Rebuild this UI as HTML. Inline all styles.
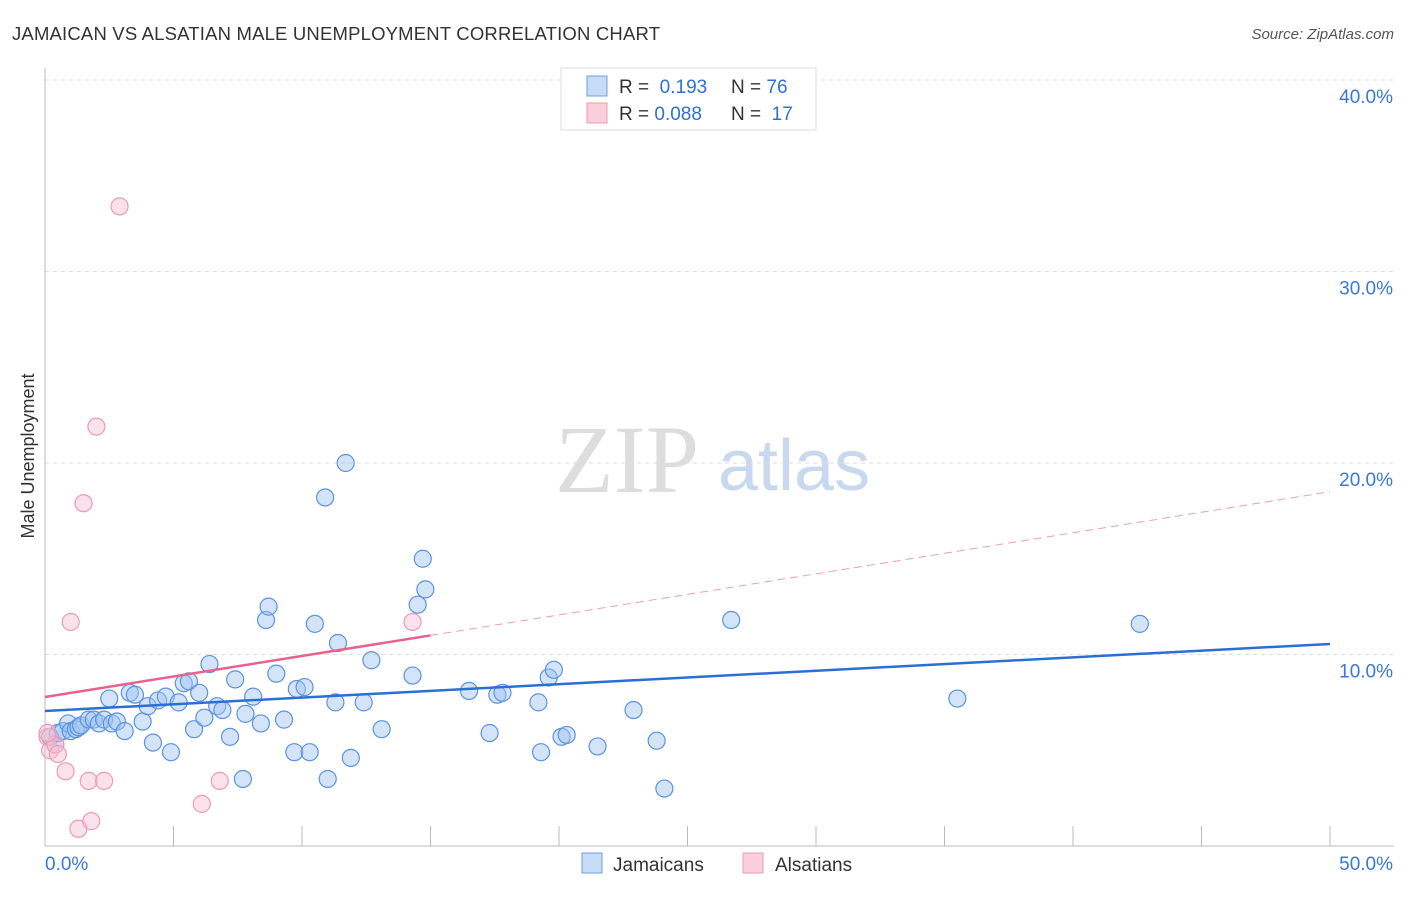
<!DOCTYPE html>
<html><head><meta charset="utf-8"><style>
body{margin:0;background:#fff;font-family:"Liberation Sans",sans-serif;}
svg text{font-family:"Liberation Sans",sans-serif;}
</style></head><body>
<svg id="chart" width="1406" height="892">
<text x="12" y="40" font-size="18.5" fill="#333" textLength="648">JAMAICAN VS ALSATIAN MALE UNEMPLOYMENT CORRELATION CHART</text>
<text x="1394" y="39" font-size="15" fill="#555" font-style="italic" text-anchor="end">Source: ZipAtlas.com</text>
<text x="34" y="456" font-size="18" fill="#333" transform="rotate(-90 34 456)" text-anchor="middle">Male Unemployment</text>
<text x="555" y="492" font-size="96" fill="#ddd" style="font-family:'Liberation Serif',serif">ZIP</text>
<text x="718" y="490" font-size="72" fill="#c8d8ee">atlas</text>
<g id="grid"></g><g id="marks"></g>
<g>
<rect x="561" y="68" width="255" height="62" fill="#fff" stroke="#ddd"/>
<rect x="587" y="76" width="20" height="20" fill="#c5dbf6" stroke="#6fa0e0"/>
<rect x="587" y="103" width="20" height="20" fill="#f9cfdc" stroke="#ec9bb4"/>
<text x="619" y="93" font-size="19" fill="#333">R = <tspan fill="#2f6fd6">&#160;0.193</tspan><tspan x="731">N = </tspan><tspan fill="#2f6fd6">76</tspan></text>
<text x="619" y="120" font-size="19" fill="#333">R = <tspan fill="#2f6fd6">0.088</tspan><tspan x="731">N = </tspan><tspan fill="#2f6fd6">&#160;17</tspan></text>
</g>
<g>
<rect x="582" y="853" width="20" height="20" fill="#c5dbf6" stroke="#6fa0e0"/>
<text x="613" y="871" font-size="19" fill="#333">Jamaicans</text>
<rect x="743" y="853" width="20" height="20" fill="#f9cfdc" stroke="#ec9bb4"/>
<text x="775" y="871" font-size="19" fill="#333">Alsatians</text>
</g>
</svg>
<script>
const yTicks=[10,20,30,40];
const yTickLabels=["10.0%","20.0%","30.0%","40.0%"];
const xTickLabels=["0.0%","50.0%"];
const jamX=[0.2,0.4,0.5,0.7,0.9,1.0,1.2,1.3,1.4,1.7,1.9,2.1,2.3,2.5,2.6,2.8,3.1,3.3,3.5,3.8,4.0,4.2,4.4,4.7,4.9,5.2,5.4,5.6,5.8,6.0,6.2,6.4,6.7,6.9,7.2,7.4,7.8,8.1,8.4,8.6,8.7,9.0,9.3,9.7,9.8,10.1,10.3,10.5,11.0,11.3,11.4,11.7,10.9,11.9,12.4,12.7,13.1,14.3,14.5,14.7,14.8,16.5,17.3,17.6,17.8,19.2,19.3,19.6,19.8,20.1,20.3,21.5,22.9,23.8,24.1,26.7,35.5,42.6,7.7];
const jamY=[5.7,5.3,5.9,6.0,6.4,6.0,6.1,6.2,6.3,6.6,6.6,6.4,6.6,7.7,6.4,6.5,6.0,8.0,7.9,6.5,7.3,5.4,7.6,7.8,4.9,7.5,8.5,8.6,6.1,8.0,6.7,9.5,7.3,7.1,5.7,8.7,6.9,7.8,6.4,11.8,12.5,9.0,6.6,4.9,8.2,8.3,4.9,11.6,3.5,7.5,10.6,20.0,18.2,4.6,7.5,9.7,6.1,8.9,12.6,15.0,13.4,8.1,5.9,7.9,8.0,7.5,4.9,8.8,9.2,5.7,5.8,5.2,7.1,5.5,3.0,11.8,7.7,11.6,3.5];
const alsX=[0.1,0.2,0.4,0.5,0.8,1.3,1.8,1.7,2.3,1.5,2.0,1.0,2.9,6.1,6.8,14.3,0.1];
const alsY=[5.7,5.0,5.3,4.8,3.9,0.9,1.3,3.4,3.4,17.9,21.9,11.7,33.4,2.2,3.4,11.7,5.9];
const jamTrend=[7.05,10.55];
const alsTrend=[7.78,18.5];
const X0=45,X1=1330,Y0=846,PY=19.15;
const sx=v=>X0+(X1-X0)*v/50, sy=v=>Y0-v*PY;
const NS="http://www.w3.org/2000/svg";
function mk(t,a,p){const e=document.createElementNS(NS,t);for(const k in a)e.setAttribute(k,a[k]);p.appendChild(e);return e;}
const grid=document.getElementById('grid'),marks=document.getElementById('marks');
yTicks.forEach((t,i)=>{
 const l=mk('line',{x1:45,x2:1394,y1:sy(t),y2:sy(t),stroke:'#ddd','stroke-dasharray':'4,4'},grid);
 
 
 const tx=mk('text',{x:1393,y:sy(t)+23,'font-size':19,fill:'#3a78d8','text-anchor':'end'},grid);tx.textContent=yTickLabels[i];
 
 
});
mk('line',{x1:45,x2:45,y1:68,y2:846,stroke:'#bbb'},grid);
mk('line',{x1:45,x2:1394,y1:846,y2:846,stroke:'#bbb'},grid);
for(let i=1;i<=10;i++){const x=sx(i*5);mk('line',{x1:x,x2:x,y1:826,y2:846,stroke:'#bbb'},grid);}
[[0,69,'start'],[50,1393,'end']].forEach((d,i)=>{const tx=mk('text',{x:d[1]-(i?0:24),y:870,'font-size':19,fill:'#3a78d8','text-anchor':d[2]},grid);tx.textContent=xTickLabels[i];
 
 });
jamX.forEach((x,i)=>{const c=mk('circle',{cx:sx(x),cy:sy(jamY[i]),r:8.5,fill:'rgba(160,196,240,0.45)',stroke:'#5b93e0','stroke-width':1.2},marks);
 
 });
alsX.forEach((x,i)=>{const c=mk('circle',{cx:sx(x),cy:sy(alsY[i]),r:8.5,fill:'rgba(246,190,208,0.45)',stroke:'#ec9bb4','stroke-width':1.2},marks);
 
 });
const tb=mk('line',{x1:sx(0),y1:sy(jamTrend[0]),x2:sx(50),y2:sy(jamTrend[1]),stroke:'#2a6fd6','stroke-width':2.5},marks);


const a15=alsTrend[0]+(alsTrend[1]-alsTrend[0])*15/50;
const tp=mk('line',{x1:sx(0),y1:sy(alsTrend[0]),x2:sx(15),y2:sy(a15),stroke:'#e8628e','stroke-width':2.5},marks);


const td=mk('line',{x1:sx(15),y1:sy(a15),x2:sx(50),y2:sy(alsTrend[1]),stroke:'#e8a0b8','stroke-width':1,'stroke-dasharray':'8,5'},marks);


</script>
</body></html>
